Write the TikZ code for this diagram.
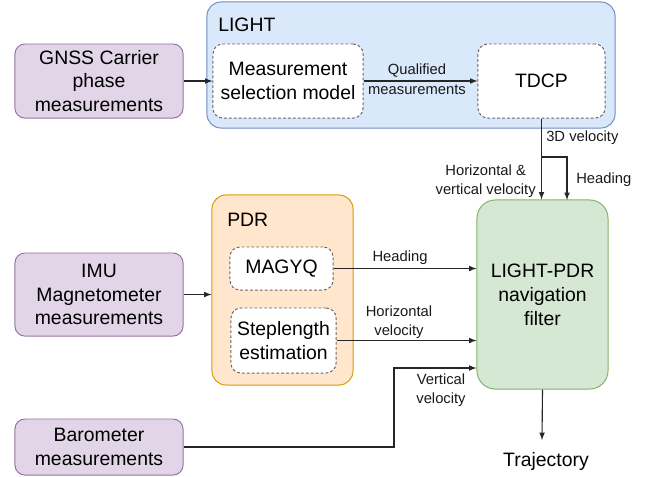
\documentclass[tikz,border=0pt]{standalone}
\usepackage{fontspec}
\setmainfont{Liberation Sans}
\usetikzlibrary{arrows}
\definecolor{srcfill}{HTML}{E1D5E7}
\definecolor{srcline}{HTML}{9673A6}
\definecolor{lightfill}{HTML}{DAE8FC}
\definecolor{lightline}{HTML}{6C8EBF}
\definecolor{pdrfill}{HTML}{FFE6CC}
\definecolor{pdrline}{HTML}{D79B00}
\definecolor{filtfill}{HTML}{D5E8D4}
\definecolor{filtline}{HTML}{82B366}
\newcommand{\boxfont}{\fontsize{13.8}{17}\selectfont}
\newcommand{\lblfont}{\fontsize{10.5}{13.5}\selectfont}
\tikzset{
  >=latex,
}
\tikzstyle{source}=[draw=srcline,fill=srcfill,line width=.7pt,rounded corners=7pt,
  align=center,font=\boxfont,inner sep=0pt,minimum width=4.2cm]
\tikzstyle{group}=[line width=.7pt,rounded corners=10pt,inner sep=0pt]
\tikzstyle{unit}=[draw=black!60,fill=white,dashed,dash pattern=on 2pt off 1.5pt,
  line width=.7pt,rounded corners=7pt,align=center,font=\boxfont,inner sep=0pt]
\tikzstyle{flow}=[->,line width=.8pt,black!85]
\tikzstyle{lbl}=[font=\lblfont,align=center,inner sep=0pt,text=black!90]

\begin{document}
\begin{tikzpicture}[x=0.025cm,y=-0.025cm]
    \useasboundingbox (0,0) rectangle (650,476);
    % groups
    \node[group,draw=lightline,fill=lightfill,minimum width=10.2cm,minimum height=3.15cm] (light) at (411,65) {};
    \node[font=\boxfont,anchor=west,inner sep=0pt] (lighttitle) at (218,25) {LIGHT};
    \node[group,draw=pdrline,fill=pdrfill,minimum width=3.525cm,minimum height=4.75cm] (pdr) at (282.5,290) {};
    \node[font=\boxfont,anchor=west,inner sep=0pt] (pdrtitle) at (227,220) {PDR};
    % sources
    \node[source,minimum height=1.85cm] (gnss) at (99,81) {GNSS Carrier\\phase\\measurements};
    \node[source,minimum height=2.075cm] (imu) at (99,294.5) {IMU\\Magnetometer\\measurements};
    \node[source,minimum height=1.4cm] (baro) at (99,447) {Barometer\\measurements};
    % inner units
    \node[unit,minimum width=3.75cm,minimum height=1.85cm] (select) at (288,81) {Measurement\\selection model};
    \node[unit,minimum width=3.175cm,minimum height=1.85cm] (tdcp) at (541.5,81) {TDCP};
    \node[unit,minimum width=2.575cm,minimum height=1.075cm] (magyq) at (281.5,268.5) {MAGYQ};
    \node[unit,minimum width=2.625cm,minimum height=1.625cm] (step) at (283.5,340.5) {Steplength\\estimation};
    % filter
    \node[draw=filtline,fill=filtfill,line width=.7pt,rounded corners=13pt,align=center,
      font=\boxfont,inner sep=0pt,minimum width=3.275cm,minimum height=4.725cm] (filter) at (542.5,294.5)
      {LIGHT-PDR\\navigation\\filter};
    \coordinate (trajend) at (542,440);
    \node[font=\boxfont,inner sep=0pt] (traj) at (546,461) {Trajectory};
    \coordinate (branch) at (542,157);
    \coordinate (bend) at (394,447);
    % connectors
    \draw[flow] (gnss.east) -- (select.west);
    \draw[flow] (select.east) -- (tdcp.west);
    \node[lbl] (qual) at (417,71) {Qualified};
    \node[lbl] (qualb) at (417,90) {measurements};
    \draw[flow] (tdcp.south) -- (tdcp.south |- filter.north);
    \draw[flow] (branch) -- (567,157) -- (567,200);
    \node[lbl,anchor=west] (vel3d) at (546,138) {3D velocity};
    \node[lbl,anchor=west] (headtop) at (576,180) {Heading};
    \node[lbl,anchor=east] (hvvel) at (536,181) {Horizontal \&\\vertical velocity};
    \draw[flow] (imu.east) -- (imu.east -| pdr.west);
    \draw[flow] (magyq.east) -- (magyq.east -| filter.west);
    \node[lbl] (headmid) at (400,258) {Heading};
    \draw[flow] (step.east) -- (step.east -| filter.west);
    \node[lbl] (hvel) at (399,322) {Horizontal\\velocity};
    \draw[flow] (baro.east) -- (bend) -- (394,368) -- (394,368 -| filter.west);
    \node[lbl] (vvel) at (441,390) {Vertical\\velocity};
    \draw[flow] (filter.south) -- (trajend);
\end{tikzpicture}
\end{document}
